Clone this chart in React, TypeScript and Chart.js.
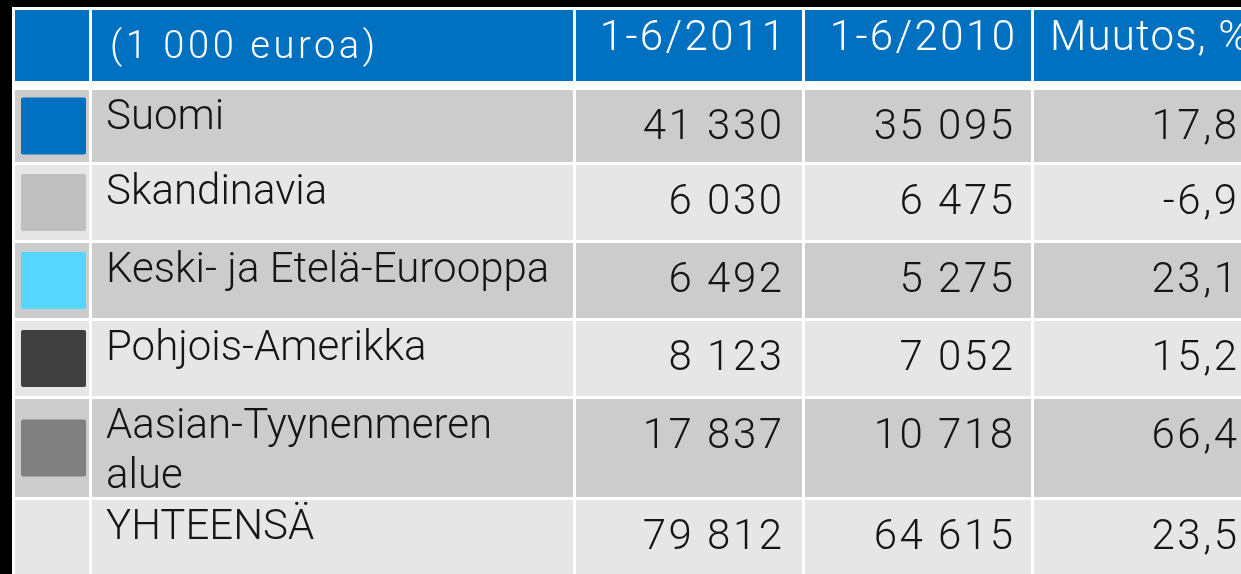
import { useEffect, useRef } from 'react';
import { Chart, registerables } from 'chart.js';

Chart.register(...registerables);

// ---- data ----
const headerLabel = '(1 000 euroa)';
const periodHeaders = ['1-6/2011', '1-6/2010'];
const changeHeader = 'Muutos, %';
const regions: string[][] = [
  ['Suomi'],
  ['Skandinavia'],
  ['Keski- ja Etelä-Eurooppa'],
  ['Pohjois-Amerikka'],
  ['Aasian-Tyynenmeren', 'alue'],
  ['YHTEENSÄ'],
];
const sales2011 = [41330, 6030, 6492, 8123, 17837, 79812];
const sales2010 = [35095, 6475, 5275, 7052, 10718, 64615];
const changePct = [17.8, -6.9, 23.1, 15.2, 66.4, 23.5];
const swatchColors: (string | null)[] = ['#0070C0', '#BFBFBF', '#55D5FF', '#404040', '#808080', null];

// ---- layout (table units = pixels of the 1241x574 picture) ----
const W = 1241;
const H = 574;
const colEdges: [number, number][] = [
  [15, 89],
  [92, 573],
  [576, 802],
  [805, 1031],
  [1034, 1260],
];
const headerEdge: [number, number] = [10, 81];
const rowEdges: [number, number][] = [
  [90, 162],
  [165, 240],
  [243, 318],
  [321, 396],
  [399, 497],
  [500, 590],
];
const BLUE = '#0070C0';
const ROW_DARK = '#CCCCCC';
const ROW_LIGHT = '#E6E6E6';
const TEXT = '#151515';
const FONT_FAMILY = 'Roboto, "Open Sans", sans-serif';

const fmtInt = (v: number) => {
  const s = Math.abs(Math.round(v)).toString();
  const parts: string[] = [];
  for (let i = s.length; i > 0; i -= 3) parts.unshift(s.slice(Math.max(0, i - 3), i));
  return (v < 0 ? '-' : '') + parts.join(' ');
};
const fmtPct = (v: number) => v.toFixed(1).replace('.', ',');

const tablePlugin = {
  id: 'tablePlugin',
  beforeDraw(chart: any) {
    const { ctx, scales } = chart;
    const x = (v: number) => scales.x.getPixelForValue(v);
    const y = (v: number) => scales.y.getPixelForValue(v);
    const rect = (x0: number, y0: number, x1: number, y1: number, c: string) => {
      const px0 = x(x0), px1 = x(x1), py0 = y(y0), py1 = y(y1);
      ctx.fillStyle = c;
      ctx.fillRect(Math.min(px0, px1), Math.min(py0, py1), Math.abs(px1 - px0), Math.abs(py1 - py0));
    };
    const text = (s: string, px: number, py: number, align: 'left' | 'right', spacing: number) => {
      ctx.letterSpacing = `${spacing}px`;
      ctx.textAlign = align;
      ctx.fillText(s, align === 'right' ? px + spacing : px, py);
      ctx.letterSpacing = '0px';
    };
    ctx.save();
    // background
    rect(0, 0, W, H, '#000000');
    rect(12, 7, W + 20, H + 20, '#FFFFFF');
    // header row
    colEdges.forEach(([a, b]) => rect(a, headerEdge[0], b, headerEdge[1], BLUE));
    ctx.textBaseline = 'alphabetic';
    ctx.fillStyle = '#FFFFFF';
    ctx.font = `300 38px ${FONT_FAMILY}`;
    text(headerLabel, x(110), y(58), 'left', 3.6);
    ctx.font = `300 42px ${FONT_FAMILY}`;
    text(periodHeaders[0], x(colEdges[2][1] - 17), y(50), 'right', 2.4);
    text(periodHeaders[1], x(colEdges[3][1] - 16), y(50), 'right', 2.4);
    text(changeHeader, x(colEdges[4][0] + 16), y(50), 'left', 1.2);

    // data rows
    rowEdges.forEach(([t, b], i) => {
      const bg = i % 2 === 0 ? ROW_DARK : ROW_LIGHT;
      colEdges.forEach(([a, c]) => rect(a, t, c, b, bg));
      const sc = swatchColors[i];
      if (sc) {
        const mid = (t + Math.min(b, 497)) / 2;
        const sx0 = x(21), sx1 = x(86), sy0 = y(mid - 28.5), sy1 = y(mid + 28.5);
        ctx.fillStyle = sc;
        ctx.beginPath();
        (ctx as any).roundRect(sx0, sy0, sx1 - sx0, sy1 - sy0, 2);
        ctx.fill();
      }
      ctx.fillStyle = TEXT;
      ctx.font = `300 42px ${FONT_FAMILY}`;
      regions[i].forEach((line, k) => text(line, x(106), y(t + 38.5 + k * 50), 'left', 0));
      text(fmtInt(sales2011[i]), x(colEdges[2][1] - 20), y(t + 48.5), 'right', 2.5);
      text(fmtInt(sales2010[i]), x(colEdges[3][1] - 18), y(t + 48.5), 'right', 2.5);
      text(fmtPct(changePct[i]), x(1237), y(t + 48.5), 'right', 2.5);
    });
    ctx.restore();
  },
};

export default function App() {
  const ref = useRef<HTMLCanvasElement>(null);
  useEffect(() => {
    document.body.style.margin = '0';
    const canvas = ref.current!;
    const chart = new Chart(canvas, {
      type: 'scatter',
      data: { datasets: [{ data: [], pointRadius: 0 }] },
      options: {
        responsive: false,
        animation: false,
        devicePixelRatio: 1,
        layout: { padding: 0 },
        plugins: { legend: { display: false }, tooltip: { enabled: false } },
        scales: {
          x: { type: 'linear', min: 0, max: W, display: false },
          y: { type: 'linear', min: 0, max: H, reverse: true, display: false },
        },
      },
      plugins: [tablePlugin],
    });
    return () => chart.destroy();
  }, []);
  return (
    <div style={{ width: W, height: H, overflow: 'hidden' }}>
      <canvas ref={ref} width={W} height={H} style={{ display: 'block' }} />
    </div>
  );
}
